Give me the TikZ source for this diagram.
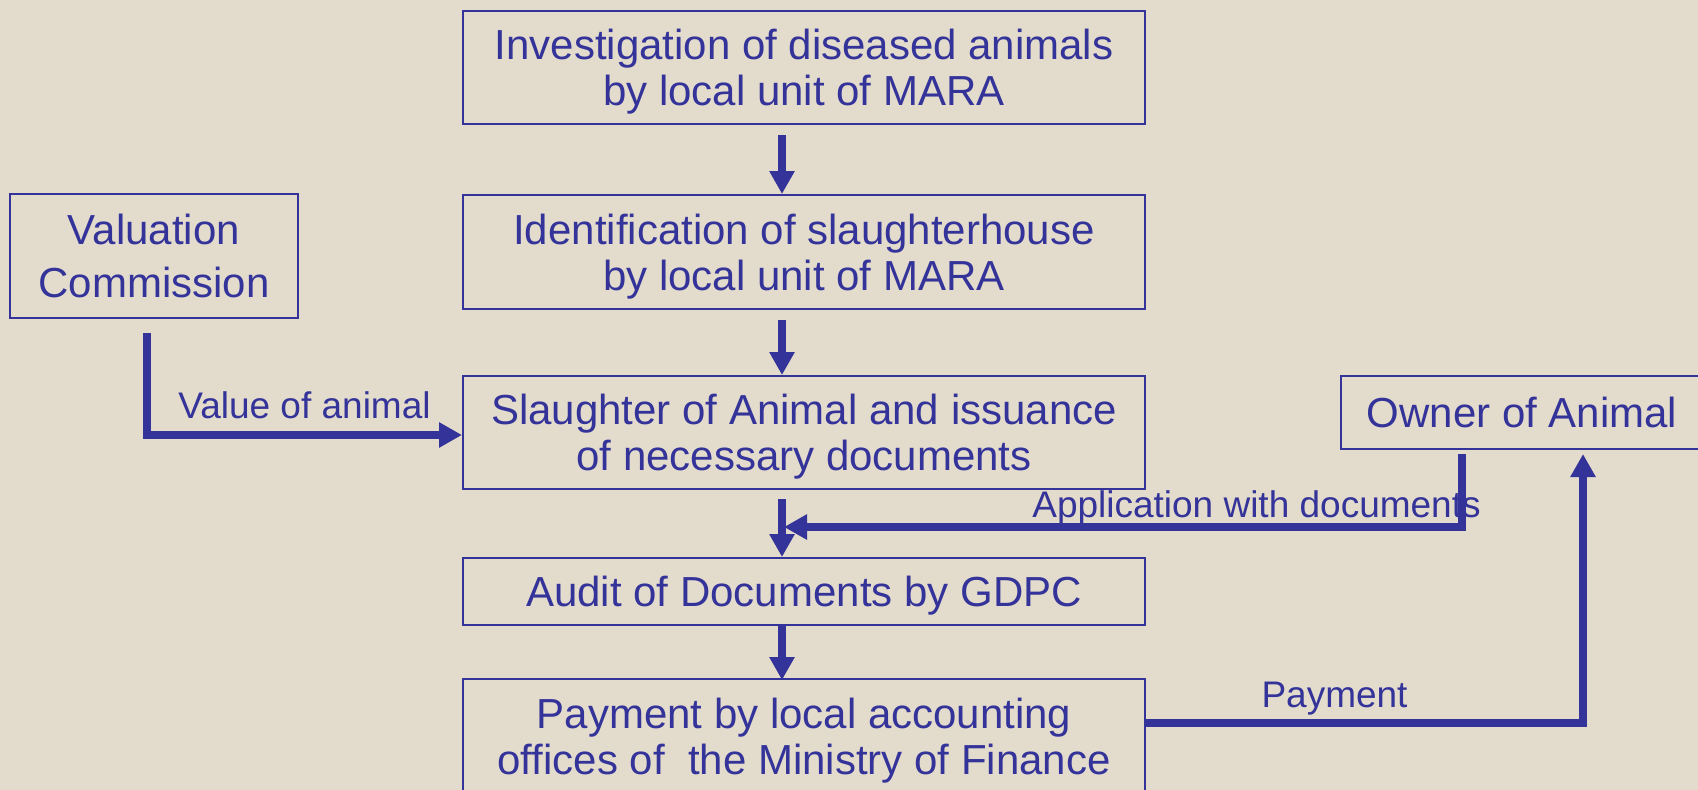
\documentclass[tikz,border=0pt]{standalone}
\usepackage{fontspec}
\setmainfont{Liberation Sans}
\usetikzlibrary{arrows.meta,calc}
\definecolor{fg}{HTML}{333399}
\definecolor{bg}{HTML}{E3DBCC}
\tikzset{
  box/.style={draw=fg, line width=2pt, inner sep=0pt, align=center, text=fg,
    font=\fontsize{42}{46}\selectfont, minimum width=682pt},
  oneline/.style={text height=30pt, text depth=0pt},
  twoline/.style={text height=76pt, text depth=0pt},
  lbl/.style={font=\fontsize{37}{40}\selectfont, text=fg, inner sep=0pt, anchor=base},
  arr/.style={draw=fg, line width=7.5pt, -{Triangle[width=24pt,length=23pt]}},
}
\begin{document}
\begin{tikzpicture}[x=1pt,y=-1pt]
\fill[bg] (0,0) rectangle (1698,790);
\useasboundingbox (0,0) rectangle (1698,790);

\node[box, twoline, minimum height=113pt] (inv) at (804,67.5) {Investigation of diseased animals\\by local unit of MARA};
\node[box, twoline, minimum height=114pt] (ident) at (804,252) {Identification of slaughterhouse\\by local unit of MARA};
\node[box, twoline, minimum height=113pt] (slaughter) at (804,432.5) {Slaughter of Animal and issuance\\of necessary documents};
\node[box, oneline, minimum height=67pt] (audit) at (804,591.5) {Audit of Documents by GDPC};
\node[box, twoline, minimum height=114pt] (pay) at (804,736) {Payment by local accounting\\offices of~ the Ministry of Finance};
\node[box, minimum width=288pt, minimum height=124pt, text height=83pt, text depth=0pt,
      font=\fontsize{42}{53}\selectfont] (val) at (154,256) {Valuation\\Commission};
\node[box, oneline, minimum width=362pt, minimum height=73pt] (owner) at (1522,412.5) {Owner of Animal};

\node[lbl] (lval) at (304.5,418) {Value of animal};
\node[lbl] (lapp) at (1256.5,517) {Application with documents};
\node[lbl] (lpay) at (1334.5,707) {Payment};

\coordinate (ax) at (782,0);
\coordinate (appin) at (784,527);

\draw[arr] ($(inv.south -| ax)+(0,10)$) -- (ident.north -| ax);
\draw[arr] ($(ident.south -| ax)+(0,10)$) -- (slaughter.north -| ax);
\draw[arr] ($(slaughter.south -| ax)+(0,9)$) -- (audit.north -| ax);
\draw[arr] ($(audit.south -| ax)+(0,-1)$) -- ($(pay.north -| ax)+(0,2)$);

\draw[arr] ($(val.south)+(-7,14)$) |- ($(slaughter.west)+(0,2.5)$);
\draw[arr] ($(owner.south)+(-60,4)$) |- (appin);
\draw[arr] ($(pay.east)+(0,-13)$) -| ($(owner.south)+(61,4)$);
\end{tikzpicture}
\end{document}
